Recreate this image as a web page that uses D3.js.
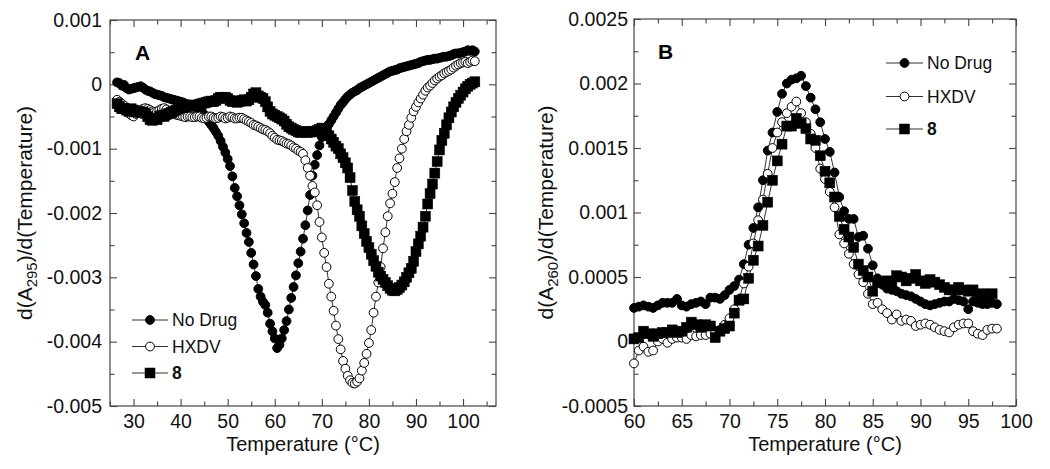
<!DOCTYPE html>
<html><head><meta charset="utf-8">
<script src="https://cdn.jsdelivr.net/npm/d3@7"></script>
<style>
body{margin:0;background:#fff;}
svg{display:block;font-family:"Liberation Sans",Arial,Helvetica,sans-serif;}
</style></head>
<body>
<svg id="chart" width="1050" height="469"></svg>
<script>
// ---------- Panel A data (values in units of 0.001) ----------
const tempA = [26.5,27,27.5,28,28.5,29,29.5,30,30.5,31,31.5,32,32.5,33,33.5,34,34.5,35,35.5,36,36.5,37,37.5,38,38.5,39,39.5,40,40.5,41,41.5,42,42.5,43,43.5,44,44.5,45,45.5,46,46.5,47,47.5,48,48.5,49,49.5,50,50.5,51,51.5,52,52.5,53,53.5,54,54.5,55,55.5,56,56.5,57,57.5,58,58.5,59,59.5,60,60.5,61,61.5,62,62.5,63,63.5,64,64.5,65,65.5,66,66.5,67,67.5,68,68.5,69,69.5,70,70.5,71,71.5,72,72.5,73,73.5,74,74.5,75,75.5,76,76.5,77,77.5,78,78.5,79,79.5,80,80.5,81,81.5,82,82.5,83,83.5,84,84.5,85,85.5,86,86.5,87,87.5,88,88.5,89,89.5,90,90.5,91,91.5,92,92.5,93,93.5,94,94.5,95,95.5,96,96.5,97,97.5,98,98.5,99,99.5,100,100.5,101,101.5,102,102.5];
const noDrugA = [0.03,0.02,-0.02,-0.01,-0.06,-0.08,-0.07,-0.06,-0.05,-0.04,-0.03,-0.05,-0.08,-0.1,-0.11,-0.13,-0.15,-0.16,-0.17,-0.18,-0.2,-0.21,-0.22,-0.23,-0.24,-0.25,-0.26,-0.27,-0.28,-0.3,-0.31,-0.32,-0.34,-0.35,-0.36,-0.38,-0.42,-0.47,-0.52,-0.58,-0.63,-0.68,-0.74,-0.8,-0.88,-0.97,-1.06,-1.16,-1.27,-1.43,-1.61,-1.74,-1.88,-2.02,-2.16,-2.31,-2.45,-2.62,-2.8,-2.98,-3.18,-3.3,-3.38,-3.43,-3.55,-3.72,-3.84,-3.95,-4.1,-4.05,-3.95,-3.82,-3.68,-3.5,-3.32,-3.15,-2.97,-2.78,-2.6,-2.4,-2.19,-1.96,-1.72,-1.42,-1.25,-1.1,-0.95,-0.82,-0.72,-0.66,-0.62,-0.56,-0.5,-0.44,-0.38,-0.32,-0.28,-0.23,-0.19,-0.16,-0.13,-0.11,-0.09,-0.06,-0.04,-0.02,0,0.02,0.04,0.06,0.08,0.1,0.12,0.14,0.16,0.18,0.2,0.21,0.22,0.23,0.25,0.26,0.27,0.28,0.29,0.3,0.31,0.32,0.33,0.35,0.36,0.37,0.38,0.38,0.39,0.4,0.4,0.41,0.42,0.43,0.43,0.44,0.45,0.47,0.48,0.48,0.49,0.5,0.51,0.53,0.52,0.53,0.51];
const hxdvA = [-0.24,-0.27,-0.3,-0.33,-0.4,-0.45,-0.48,-0.5,-0.46,-0.42,-0.4,-0.38,-0.37,-0.38,-0.4,-0.42,-0.43,-0.42,-0.4,-0.38,-0.37,-0.39,-0.42,-0.44,-0.46,-0.47,-0.48,-0.49,-0.5,-0.51,-0.5,-0.5,-0.51,-0.51,-0.5,-0.5,-0.52,-0.53,-0.52,-0.5,-0.5,-0.52,-0.53,-0.52,-0.5,-0.51,-0.53,-0.52,-0.5,-0.51,-0.53,-0.53,-0.52,-0.52,-0.54,-0.56,-0.58,-0.6,-0.63,-0.64,-0.66,-0.68,-0.7,-0.71,-0.73,-0.76,-0.8,-0.83,-0.86,-0.87,-0.88,-0.9,-0.92,-0.93,-0.95,-0.98,-1.0,-1.03,-1.05,-1.08,-1.18,-1.3,-1.42,-1.58,-1.68,-1.88,-2.14,-2.38,-2.62,-2.84,-3.1,-3.3,-3.52,-3.75,-3.96,-4.12,-4.3,-4.42,-4.53,-4.6,-4.64,-4.65,-4.62,-4.57,-4.45,-4.33,-4.19,-4.02,-3.82,-3.55,-3.3,-3.08,-2.84,-2.55,-2.3,-2.05,-1.85,-1.7,-1.52,-1.3,-1.15,-1.0,-0.85,-0.73,-0.63,-0.52,-0.42,-0.35,-0.28,-0.22,-0.16,-0.1,-0.05,-0.02,0.02,0.06,0.09,0.12,0.14,0.17,0.19,0.21,0.23,0.26,0.29,0.31,0.33,0.34,0.35,0.33,0.35,0.37,0.36];
const cmpd8A = [-0.3,-0.35,-0.38,-0.37,-0.4,-0.42,-0.38,-0.4,-0.43,-0.42,-0.44,-0.43,-0.45,-0.5,-0.55,-0.56,-0.53,-0.55,-0.5,-0.48,-0.5,-0.47,-0.45,-0.44,-0.42,-0.4,-0.38,-0.36,-0.36,-0.35,-0.34,-0.34,-0.33,-0.32,-0.33,-0.31,-0.3,-0.29,-0.28,-0.27,-0.26,-0.27,-0.25,-0.22,-0.2,-0.21,-0.2,-0.22,-0.25,-0.27,-0.26,-0.28,-0.27,-0.25,-0.24,-0.26,-0.24,-0.2,-0.15,-0.13,-0.18,-0.2,-0.22,-0.27,-0.35,-0.42,-0.46,-0.48,-0.5,-0.52,-0.54,-0.57,-0.62,-0.66,-0.68,-0.7,-0.72,-0.74,-0.75,-0.74,-0.73,-0.75,-0.74,-0.73,-0.74,-0.72,-0.7,-0.68,-0.7,-0.75,-0.8,-0.85,-0.9,-0.96,-1.0,-1.08,-1.14,-1.22,-1.3,-1.45,-1.65,-1.82,-1.95,-2.05,-2.2,-2.32,-2.44,-2.54,-2.64,-2.74,-2.83,-2.92,-2.98,-3.03,-3.08,-3.13,-3.17,-3.2,-3.21,-3.19,-3.16,-3.12,-3.07,-3.0,-2.93,-2.86,-2.75,-2.6,-2.48,-2.36,-2.22,-2.05,-1.86,-1.7,-1.55,-1.38,-1.2,-1.02,-0.87,-0.76,-0.63,-0.52,-0.43,-0.35,-0.28,-0.22,-0.17,-0.12,-0.07,-0.03,0,0.02,0.04];

// ---------- Panel B data (values in units of 0.001) ----------
const tempB = [60,60.5,61,61.5,62,62.5,63,63.5,64,64.5,65,65.5,66,66.5,67,67.5,68,68.5,69,69.5,70,70.5,71,71.5,72,72.5,73,73.5,74,74.5,75,75.5,76,76.5,77,77.5,78,78.5,79,79.5,80,80.5,81,81.5,82,82.5,83,83.5,84,84.5,85,85.5,86,86.5,87,87.5,88,88.5,89,89.5,90,90.5,91,91.5,92,92.5,93,93.5,94,94.5,95,95.5,96,96.5,97,97.5,98];
const noDrugB = [0.26,0.27,0.28,0.27,0.26,0.28,0.3,0.3,0.3,0.33,0.28,0.27,0.29,0.3,0.31,0.29,0.34,0.34,0.33,0.36,0.4,0.43,0.48,0.6,0.75,0.88,1.04,1.25,1.48,1.62,1.78,1.92,2.0,2.03,2.04,2.06,1.98,1.89,1.8,1.7,1.57,1.47,1.31,1.12,1.01,0.95,0.95,0.81,0.82,0.72,0.59,0.49,0.44,0.41,0.4,0.39,0.37,0.36,0.35,0.33,0.31,0.29,0.28,0.29,0.3,0.31,0.31,0.33,0.32,0.31,0.25,0.31,0.3,0.29,0.29,0.3,0.29];
const hxdvB = [-0.17,-0.07,-0.04,-0.08,-0.07,0.0,0.02,-0.01,0.02,0.03,0.03,0.02,0.05,0.04,0.05,0.05,0.06,0.07,0.09,0.13,0.18,0.25,0.33,0.45,0.58,0.76,0.94,1.1,1.3,1.5,1.62,1.7,1.77,1.82,1.86,1.77,1.7,1.61,1.5,1.34,1.26,1.16,1.04,0.83,0.76,0.68,0.6,0.52,0.46,0.37,0.29,0.3,0.25,0.22,0.17,0.21,0.16,0.17,0.16,0.12,0.13,0.14,0.13,0.11,0.09,0.08,0.07,0.11,0.13,0.14,0.14,0.08,0.06,0.05,0.09,0.1,0.1];
const cmpd8B = [0.02,0.03,0.08,0.06,0.04,0.06,0.07,0.07,0.09,0.07,0.08,0.11,0.15,0.13,0.11,0.13,0.12,0.03,0.08,0.1,0.12,0.22,0.32,0.33,0.49,0.63,0.74,0.9,1.08,1.25,1.4,1.53,1.67,1.67,1.73,1.69,1.65,1.57,1.56,1.44,1.32,1.23,1.12,0.97,0.87,0.81,0.73,0.6,0.55,0.5,0.39,0.46,0.46,0.47,0.44,0.51,0.5,0.47,0.49,0.52,0.47,0.45,0.48,0.46,0.44,0.42,0.4,0.4,0.42,0.4,0.39,0.4,0.35,0.37,0.35,0.37];

// ---------- Ticks / labels ----------
const xMajorA = [30,40,50,60,70,80,90,100];
const xMinorA = [25,35,45,55,65,75,85,95,105];
const yMajorA = [0.001,0,-0.001,-0.002,-0.003,-0.004,-0.005];
const yLabelsA = ["0.001","0","-0.001","-0.002","-0.003","-0.004","-0.005"];
const yMinorA = [0.0005,-0.0005,-0.0015,-0.0025,-0.0035,-0.0045];

const xMajorB = [60,65,70,75,80,85,90,95,100];
const xMinorB = [62.5,67.5,72.5,77.5,82.5,87.5,92.5,97.5];
const yMajorB = [0.0025,0.002,0.0015,0.001,0.0005,0,-0.0005];
const yLabelsB = ["0.0025","0.002","0.0015","0.001","0.0005","0","-0.0005"];
const yMinorB = [0.00225,0.00175,0.00125,0.00075,0.00025,-0.00025];

const seriesNames = ["No Drug","HXDV","8"];

const svg = d3.select("#chart");
const TICKFONT = 19.5;
const TITLEFONT = 20;

function drawPanel(cfg){
  const g = svg.append("g");
  const x = d3.scaleLinear().domain(cfg.xDomain).range([cfg.left, cfg.right]);
  const y = d3.scaleLinear().domain(cfg.yDomain).range([cfg.bottom, cfg.top]);
  const w = cfg.right - cfg.left, h = cfg.bottom - cfg.top;

  g.append("rect").attr("x",cfg.left).attr("y",cfg.top).attr("width",w).attr("height",h)
    .attr("fill","none").attr("stroke","#444").attr("stroke-width",1.2);

  function styleAxis(sel){
    sel.select(".domain").remove();
    sel.selectAll(".tick line").attr("stroke","#444").attr("stroke-width",1.1);
    sel.selectAll(".tick text").attr("fill","#111").style("font-size",TICKFONT+"px")
      .style("font-family","'Liberation Sans',Arial,sans-serif");
  }
  g.append("g").attr("transform",`translate(0,${cfg.bottom})`)
    .call(d3.axisBottom(x).tickValues(cfg.xMajor).tickSize(-7).tickPadding(8).tickFormat(d3.format("d")))
    .call(styleAxis);
  g.append("g").attr("transform",`translate(0,${cfg.bottom})`)
    .call(d3.axisBottom(x).tickValues(cfg.xMinor).tickSize(-4.5).tickFormat(""))
    .call(styleAxis);
  g.append("g").attr("transform",`translate(0,${cfg.top})`)
    .call(d3.axisTop(x).tickValues(cfg.xMajor).tickSize(-7).tickFormat(""))
    .call(styleAxis);
  g.append("g").attr("transform",`translate(0,${cfg.top})`)
    .call(d3.axisTop(x).tickValues(cfg.xMinor).tickSize(-4.5).tickFormat(""))
    .call(styleAxis);
  g.append("g").attr("transform",`translate(${cfg.left},0)`)
    .call(d3.axisLeft(y).tickValues(cfg.yMajor).tickSize(-7).tickPadding(cfg.yPad)
      .tickFormat((d,i)=>cfg.yLabels[i]))
    .call(styleAxis);
  g.append("g").attr("transform",`translate(${cfg.left},0)`)
    .call(d3.axisLeft(y).tickValues(cfg.yMinor).tickSize(-4.5).tickFormat(""))
    .call(styleAxis);
  g.append("g").attr("transform",`translate(${cfg.right},0)`)
    .call(d3.axisRight(y).tickValues(cfg.yMajor).tickSize(-7).tickFormat(""))
    .call(styleAxis);
  g.append("g").attr("transform",`translate(${cfg.right},0)`)
    .call(d3.axisRight(y).tickValues(cfg.yMinor).tickSize(-4.5).tickFormat(""))
    .call(styleAxis);

  g.append("text").attr("x",(cfg.left+cfg.right)/2).attr("y",cfg.bottom+45)
    .attr("text-anchor","middle").attr("fill","#111").style("font-size",TITLEFONT+"px")
    .text("Temperature (°C)");
  const yt = g.append("text")
    .attr("transform",`translate(${cfg.yTitleX},${(cfg.top+cfg.bottom)/2}) rotate(-90)`)
    .attr("text-anchor","middle").attr("fill","#111").style("font-size",(TITLEFONT+1)+"px");
  yt.append("tspan").text("d(A");
  yt.append("tspan").attr("dy",5).style("font-size","15px").text(cfg.sub);
  yt.append("tspan").attr("dy",-5).text(")/d(Temperature)");

  g.append("text").attr("x",cfg.letterX).attr("y",cfg.top+40).attr("fill","#000")
    .style("font-size","21px").style("font-weight","bold").text(cfg.letter);

  const line = d3.line().x(d=>x(d[0])).y(d=>y(d[1]));
  cfg.series.forEach(s=>{
    const pts = s.values.map((v,i)=>[cfg.temps[i], v/1000]);
    g.append("path").datum(pts).attr("d",line).attr("fill","none")
      .attr("stroke","#333").attr("stroke-width",1);
  });
  cfg.series.forEach((s,si)=>{
    const pts = s.values.map((v,i)=>[x(cfg.temps[i]), y(v/1000)]);
    drawMarkers(g, pts, si);
  });

  seriesNames.forEach((name,i)=>{
    const ly = cfg.legY[i];
    g.append("line").attr("x1",cfg.legX1).attr("x2",cfg.legX2).attr("y1",ly).attr("y2",ly)
      .attr("stroke","#333").attr("stroke-width",1);
    drawMarkers(g, [[(cfg.legX1+cfg.legX2)/2, ly]], i);
    g.append("text").attr("x",cfg.legX2+4).attr("y",ly+6).attr("fill","#111")
      .style("font-size","17.5px").style("font-weight", i===2 ? "bold" : "normal").text(name);
  });
}

function drawMarkers(g, pts, si){
  if(si===2){
    g.selectAll(null).data(pts).enter().append("rect")
      .attr("x",d=>d[0]-5).attr("y",d=>d[1]-5).attr("width",10).attr("height",10)
      .attr("fill","#000").attr("stroke","#000").attr("stroke-width",0.5);
  } else {
    g.selectAll(null).data(pts).enter().append("circle")
      .attr("cx",d=>d[0]).attr("cy",d=>d[1]).attr("r",4.4)
      .attr("fill", si===0 ? "#000" : "#fff").attr("stroke","#000").attr("stroke-width",1);
  }
}

drawPanel({
  left:110, right:496, top:20, bottom:406,
  xDomain:[25,107], yDomain:[-0.005,0.001],
  xMajor:xMajorA, xMinor:xMinorA, yMajor:yMajorA, yMinor:yMinorA, yLabels:yLabelsA, yPad:8,
  temps:tempA, sub:"295", yTitleX:32, letter:"A", letterX:135,
  series:[{values:noDrugA},{values:hxdvA},{values:cmpd8A}],
  legX1:132, legX2:168, legY:[320,346.5,373]
});
drawPanel({
  left:634, right:1016, top:19, bottom:406,
  xDomain:[60,100], yDomain:[-0.0005,0.0025],
  xMajor:xMajorB, xMinor:xMinorB, yMajor:yMajorB, yMinor:yMinorB, yLabels:yLabelsB, yPad:6,
  temps:tempB, sub:"260", yTitleX:553, letter:"B", letterX:658,
  series:[{values:noDrugB},{values:hxdvB},{values:cmpd8B}],
  legX1:886, legX2:923, legY:[63,96.5,129]
});
</script>
</body></html>
